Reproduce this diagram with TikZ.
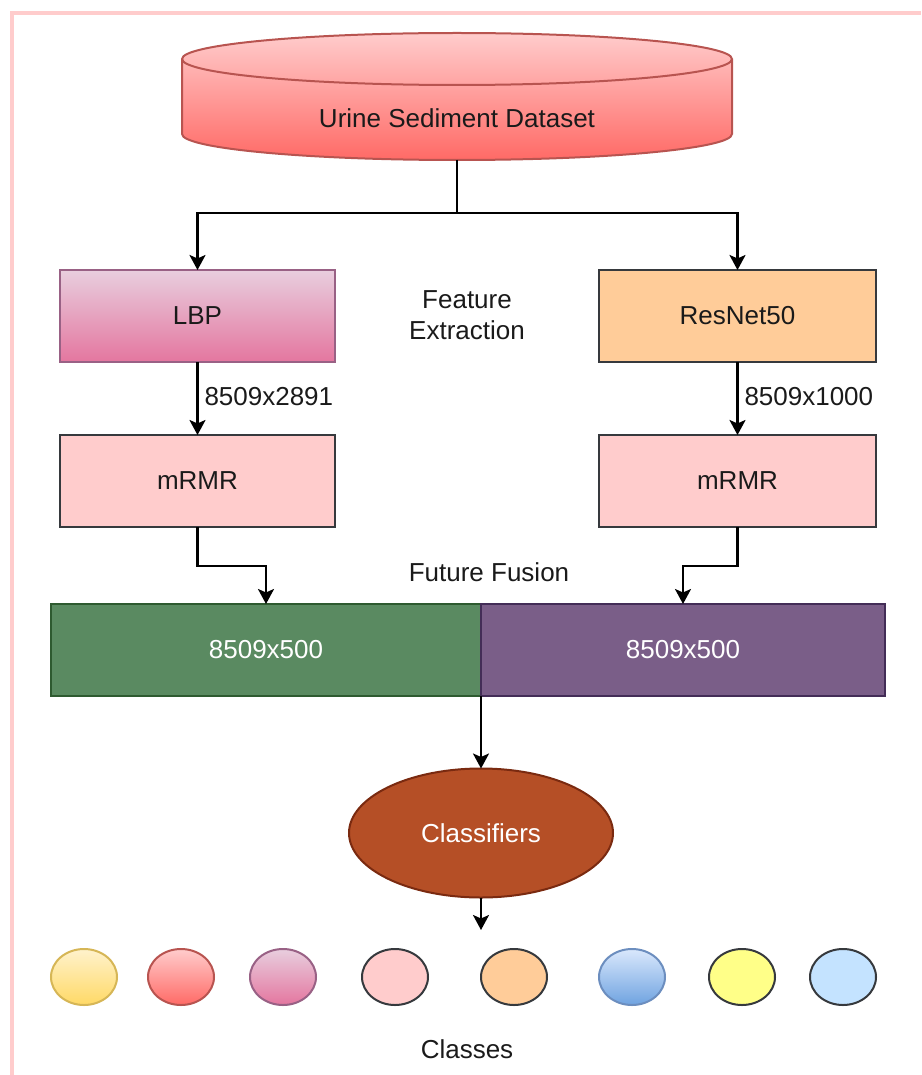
\documentclass[tikz,border=0pt]{standalone}
\usepackage{fontspec}
\setmainfont{Liberation Sans}
\usetikzlibrary{arrows.meta,shapes.geometric,calc}
\definecolor{framepink}{HTML}{FFCCCC}
\definecolor{redTop}{HTML}{FFCCCC}
\definecolor{redBot}{HTML}{FF6A66}
\definecolor{redStroke}{HTML}{B85450}
\definecolor{pinkTop}{HTML}{E8CEDE}
\definecolor{pinkBot}{HTML}{E4769F}
\definecolor{pinkStroke}{HTML}{996185}
\definecolor{orangeFill}{HTML}{FFCC99}
\definecolor{lightRed}{HTML}{FFCCCC}
\definecolor{strokeDark}{HTML}{36393D}
\definecolor{greenFill}{HTML}{5A8A61}
\definecolor{greenStroke}{HTML}{2E5A30}
\definecolor{purpleFill}{HTML}{7A5E88}
\definecolor{purpleStroke}{HTML}{432D57}
\definecolor{clfFill}{HTML}{B54F26}
\definecolor{clfStroke}{HTML}{7A2A10}
\definecolor{yelTop}{HTML}{FFF2CC}
\definecolor{yelBot}{HTML}{FFD966}
\definecolor{yelStroke}{HTML}{D6B656}
\definecolor{bluTop}{HTML}{DAE8FC}
\definecolor{bluBot}{HTML}{6FA3E0}
\definecolor{bluStroke}{HTML}{6C8EBF}
\definecolor{lemon}{HTML}{FFFF88}
\definecolor{skyFill}{HTML}{C4E3FF}
\definecolor{txt}{HTML}{1A1A1A}
\begin{document}
\begin{tikzpicture}[x=1pt,y=1pt,
  every node/.style={font=\fontsize{26}{31}\selectfont, inner sep=0pt, outer sep=0pt, text=txt},
  box/.style={rectangle, draw=strokeDark, line width=2pt, minimum height=92pt},
  conn/.style={line width=2.4pt, draw=black},
  arr/.style={conn, arrows={-Stealth[length=15pt,width=16pt,inset=3.5pt,fill=black]}},
  cls/.style={ellipse, line width=2pt, minimum width=66pt, minimum height=56pt},
  lbl/.style={anchor=west}
]
\useasboundingbox (0,0) rectangle (921,-1075);
% page frame
\draw[framepink, line width=4pt] (12,-1075) -- (12,-13) -- (921,-13);

% dataset cylinder
\path[draw=redStroke, line width=2pt, top color=redTop, bottom color=redBot]
  (182,-59) -- (182,-134) arc[start angle=180,end angle=360,x radius=275pt,y radius=26pt]
  -- (732,-59) arc[start angle=0,end angle=180,x radius=275pt,y radius=26pt] -- cycle;
\draw[redStroke, line width=2pt] (182,-59) arc[start angle=180,end angle=360,x radius=275pt,y radius=26pt];
\node (db) at (457,-118) {Urine Sediment Dataset};
\coordinate (dbbot) at (457,-160);
\coordinate (split) at (457,-213);

% feature extraction
\node[box, draw=pinkStroke, top color=pinkTop, bottom color=pinkBot, minimum width=275pt] (lbp) at (197.5,-316) {LBP};
\node[box, fill=orangeFill, minimum width=277pt] (res) at (737.5,-316) {ResNet50};
\node[align=center] (fe) at (467,-315) {Feature\\Extraction};

\node[box, fill=lightRed, minimum width=275pt] (mrl) at (197.5,-481) {mRMR};
\node[box, fill=lightRed, minimum width=277pt] (mrr) at (737.5,-481) {mRMR};

% fusion
\node[box, draw=greenStroke, fill=greenFill, minimum width=430pt, text=white] (gbar) at (266,-650) {8509x500};
\node[box, draw=purpleStroke, fill=purpleFill, minimum width=404pt, text=white] (pbar) at (683,-650) {8509x500};
\node (ff) at (489,-572) {Future Fusion};

% classifiers
\node[ellipse, draw=clfStroke, fill=clfFill, line width=2pt, minimum width=264pt, minimum height=129pt, text=white] (clf) at (481,-833) {Classifiers};
\coordinate (clfout) at (481,-930);

% classes
\node[cls, draw=yelStroke, top color=yelTop, bottom color=yelBot] (c1) at (84,-977) {};
\node[cls, draw=redStroke, top color=redTop, bottom color=redBot] (c2) at (181,-977) {};
\node[cls, draw=pinkStroke, top color=pinkTop, bottom color=pinkBot] (c3) at (283,-977) {};
\node[cls, draw=strokeDark, fill=lightRed] (c4) at (395,-977) {};
\node[cls, draw=strokeDark, fill=orangeFill] (c5) at (514,-977) {};
\node[cls, draw=bluStroke, top color=bluTop, bottom color=bluBot] (c6) at (632,-977) {};
\node[cls, draw=strokeDark, fill=lemon] (c7) at (742,-977) {};
\node[cls, draw=strokeDark, fill=skyFill] (c8) at (843,-977) {};
\node (classes) at (467,-1049) {Classes};

% connectors
\draw[conn] (dbbot) -- (split);
\draw[arr] (split) -| (lbp.north);
\draw[arr] (split) -| (res.north);
\draw[arr] (lbp.south) -- (mrl.north) node[lbl, pos=0.48, xshift=7pt] {8509x2891};
\draw[arr] (res.south) -- (mrr.north) node[lbl, pos=0.48, xshift=7pt] {8509x1000};
\draw[arr] (mrl.south) -- ++(0,-39) -| (gbar.north);
\draw[arr] (mrr.south) -- ++(0,-39) -| (pbar.north);
\draw[arr] (gbar.south east) -- (clf.north);
\draw[arr] (clf.south) -- (clfout);
\end{tikzpicture}
\end{document}
